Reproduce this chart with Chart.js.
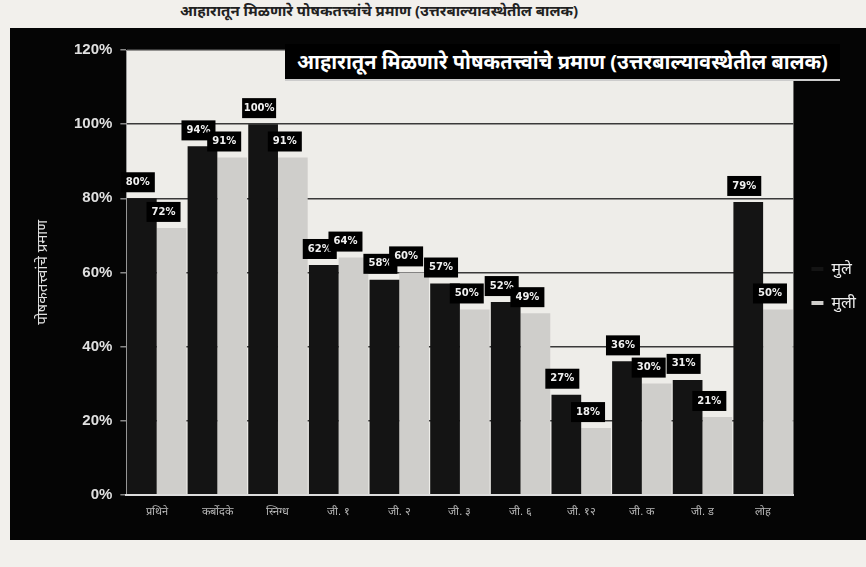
<!DOCTYPE html>
<html>
<head>
<meta charset="utf-8">
<script src="https://cdn.jsdelivr.net/npm/chart.js@4.4.0/dist/chart.umd.min.js"></script>
<style>
  html, body { margin: 0; padding: 0; background: #f2f0ec; width: 866px; height: 567px; overflow: hidden; }
  #caption { position: absolute; left: 180px; top: 0px; font: bold 15px "Noto Sans", "DejaVu Sans", sans-serif; color: #222; }
  #panel { position: absolute; left: 10px; top: 28px; width: 856px; height: 512px; background: #050505; }
  #title { position: absolute; left: 285px; top: 44px; padding: 4px 12px; background: #000; color: #fff;
           font: bold 20px "Noto Sans", "DejaVu Sans", sans-serif; border-bottom: 2px solid #ccc; }
  canvas { display: block; }
</style>
</head>
<body>
<div id="caption">आहारातून मिळणारे पोषकतत्त्वांचे प्रमाण (उत्तरबाल्यावस्थेतील बालक)</div>
<div id="panel"><canvas id="chart" width="856" height="512"></canvas></div>
<div id="title">आहारातून मिळणारे पोषकतत्त्वांचे प्रमाण (उत्तरबाल्यावस्थेतील बालक)</div>
<script>
var nutrients = ['प्रथिने', 'कर्बोदके', 'स्निग्ध', 'जी. १', 'जी. २', 'जी. ३', 'जी. ६', 'जी. १२', 'जी. क', 'जी. ड', 'लोह'];
var boys = [80, 94, 100, 62, 58, 57, 52, 27, 36, 31, 79];
var girls = [72, 91, 91, 64, 60, 50, 49, 18, 30, 21, 50];
var yTicks = [0, 20, 40, 60, 80, 100, 120];

// light plot background
var plotBg = {
    id: 'plotBg',
    beforeDraw: function(chart) {
        var a = chart.chartArea, ctx = chart.ctx;
        ctx.save();
        ctx.fillStyle = '#eeede9';
        ctx.fillRect(a.left, a.top, a.right - a.left, a.bottom - a.top);
        ctx.restore();
    }
};

// value labels in black boxes above each bar
var valueBoxes = {
    id: 'valueBoxes',
    afterDatasetsDraw: function(chart) {
        var ctx = chart.ctx;
        ctx.save();
        ctx.font = 'bold 10px "DejaVu Sans", sans-serif';
        ctx.textAlign = 'center';
        ctx.textBaseline = 'middle';
        chart.data.datasets.forEach(function(ds, i) {
            chart.getDatasetMeta(i).data.forEach(function(bar, j) {
                var txt = ds.data[j] + '%';
                var w = 34, h = 20;
                var x = bar.x + (i === 0 ? -4 : -8);
                var y = bar.y - 6 - h / 2;
                ctx.fillStyle = '#000';
                ctx.fillRect(x - w / 2, y - h / 2, w, h);
                ctx.fillStyle = '#f0f0f0';
                ctx.fillText(txt, x, y);
            });
        });
        ctx.restore();
    }
};

new Chart(document.getElementById('chart').getContext('2d'), {
    type: 'bar',
    data: {
        labels: nutrients,
        datasets: [
            { label: 'मुले', data: boys, backgroundColor: '#141414', borderWidth: 0 },
            { label: 'मुली', data: girls, backgroundColor: '#cfcecb', borderWidth: 0 }
        ]
    },
    options: {
        responsive: false,
        animation: false,
        layout: { padding: { top: 22, right: 0, bottom: 18, left: 20 } },
        datasets: { bar: { categoryPercentage: 0.98, barPercentage: 1.0 } },
        plugins: {
            title: { display: false },
            tooltip: { enabled: false },
            legend: {
                position: 'right',
                labels: {
                    color: '#eee',
                    font: { size: 16, family: '"Noto Sans", "DejaVu Sans", sans-serif' },
                    boxWidth: 12,
                    boxHeight: 4,
                    padding: 18
                }
            }
        },
        scales: {
            y: {
                min: 0,
                max: 120,
                afterBuildTicks: function(axis) {
                    axis.ticks = yTicks.map(function(v) { return { value: v }; });
                },
                ticks: {
                    color: '#e0e0e0',
                    font: { size: 15, weight: 'bold', family: '"Liberation Sans", sans-serif' },
                    callback: function(v) { return v + '%'; },
                    padding: 8
                },
                grid: { color: '#3a3a3a', lineWidth: 1.5, drawTicks: true, tickColor: '#888', tickLength: 6 },
                border: { color: '#999' },
                title: {
                    display: true,
                    text: 'पोषकतत्त्वांचे प्रमाण',
                    color: '#e0e0e0',
                    font: { size: 15, family: '"Noto Sans", "DejaVu Sans", sans-serif' },
                    padding: { bottom: 14 }
                }
            },
            x: {
                ticks: { color: '#bbb', font: { size: 11 }, padding: 3 },
                grid: { display: false },
                border: { color: '#ddd', width: 2 }
            }
        }
    },
    plugins: [plotBg, valueBoxes]
});
</script>
</body>
</html>
